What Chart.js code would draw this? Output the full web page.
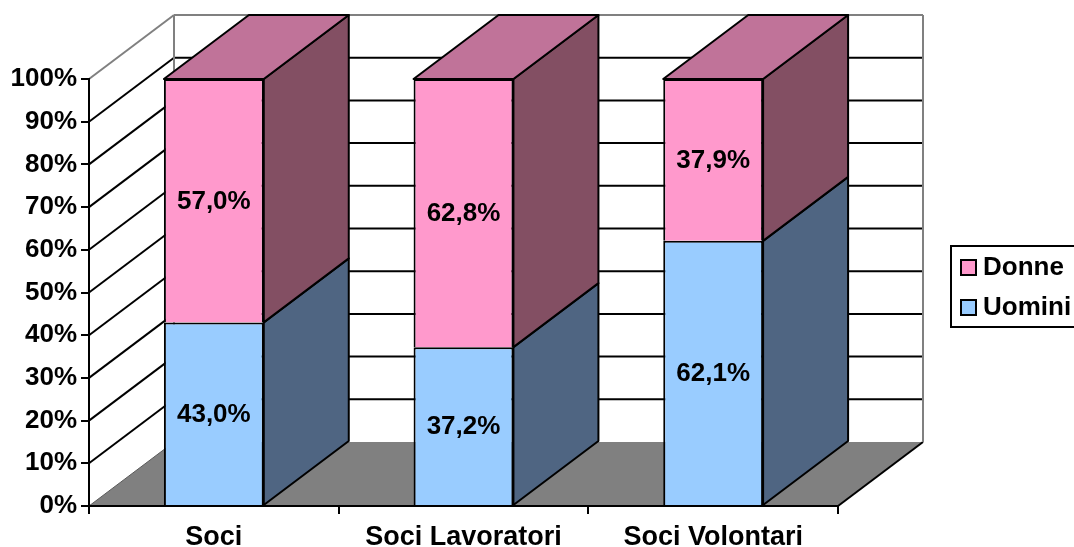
<!DOCTYPE html>
<html>
<head>
<meta charset="utf-8">
<script src="https://cdn.jsdelivr.net/npm/chart.js@4"></script>
<style>
  html, body { margin: 0; padding: 0; background: #fff; }
  canvas { display: block; }
</style>
</head>
<body>
<canvas id="chart" width="1074" height="547"></canvas>
<script>
const categories = ['Soci', 'Soci Lavoratori', 'Soci Volontari'];
const uomini = [43.0, 37.2, 62.1];
const donne = [57.0, 62.8, 37.9];
const seriesNames = ['Uomini', 'Donne'];
const yTicks = [0, 10, 20, 30, 40, 50, 60, 70, 80, 90, 100];

// colori stile Excel: fronte, lato, sopra
const colFront = ['#99CCFF', '#FF99CC'];
const colSide = ['#4F6582', '#834F63'];
const colTop = ['#7A9CC4', '#C07399'];

const DX = 85, DY = -64;   // profondita 3D
const FONT = '"Liberation Sans", Arial, sans-serif';

function fmt(v) {
  return v.toFixed(1).replace('.', ',') + '%';
}

function poly(ctx, pts, fill, stroke, lw) {
  ctx.beginPath();
  ctx.moveTo(pts[0][0], pts[0][1]);
  for (let i = 1; i < pts.length; i++) ctx.lineTo(pts[i][0], pts[i][1]);
  ctx.closePath();
  if (fill) { ctx.fillStyle = fill; ctx.fill(); }
  if (stroke) { ctx.strokeStyle = stroke; ctx.lineWidth = lw || 2; ctx.lineJoin = 'round'; ctx.stroke(); }
}

function line(ctx, x1, y1, x2, y2, color, lw) {
  ctx.beginPath();
  ctx.moveTo(x1, y1);
  ctx.lineTo(x2, y2);
  ctx.strokeStyle = color;
  ctx.lineWidth = lw;
  ctx.stroke();
}

const box3d = {
  id: 'box3d',
  beforeDraw(chart) {
    const ctx = chart.ctx;
    const a = chart.chartArea;
    const y = chart.scales.y;
    const y0 = y.getPixelForValue(0), y100 = y.getPixelForValue(100);
    ctx.save();
    // pavimento
    poly(ctx, [[a.left, y0], [a.right, y0], [a.right + DX, y0 + DY], [a.left + DX, y0 + DY]], '#808080');
    line(ctx, a.left, y0, a.left + DX, y0 + DY, '#5a5a5a', 1);
    line(ctx, a.right, y0, a.right + DX, y0 + DY, '#000', 2);
    // griglia parete di fondo e laterale
    yTicks.forEach(t => {
      if (t === 0 || t === 100) return;
      const p = y.getPixelForValue(t);
      line(ctx, a.left + DX, p + DY, a.right + DX, p + DY, '#000', 2);
      line(ctx, a.left, p, a.left + DX, p + DY, '#000', 2);
    });
    // bordi delle pareti
    line(ctx, a.left + DX, y100 + DY, a.right + DX, y100 + DY, '#808080', 2);
    line(ctx, a.right + DX, y100 + DY, a.right + DX, y0 + DY, '#808080', 2);
    line(ctx, a.left + DX, y100 + DY, a.left + DX, y0 + DY, '#808080', 2);
    line(ctx, a.left, y100, a.left + DX, y100 + DY, '#808080', 2);
    ctx.restore();
  },
  afterDatasetsDraw(chart) {
    const ctx = chart.ctx;
    const n = chart.data.datasets.length;
    ctx.save();
    for (let d = 0; d < n; d++) {
      const meta = chart.getDatasetMeta(d);
      meta.data.forEach(bar => {
        const p = bar.getProps(['x', 'y', 'base', 'width'], true);
        const l = p.x - p.width / 2, r = p.x + p.width / 2;
        const top = Math.min(p.y, p.base), bot = Math.max(p.y, p.base);
        poly(ctx, [[r, top], [r + DX, top + DY], [r + DX, bot + DY], [r, bot]], colSide[d], '#000', 2);
        if (d === n - 1) {
          poly(ctx, [[l, top], [l + DX, top + DY], [r + DX, top + DY], [r, top]], colTop[d], '#000', 2);
        }
      });
    }
    // etichette dati
    ctx.fillStyle = '#000';
    ctx.font = 'bold 26px ' + FONT;
    ctx.textAlign = 'center';
    ctx.textBaseline = 'middle';
    for (let d = 0; d < n; d++) {
      const meta = chart.getDatasetMeta(d);
      meta.data.forEach((bar, i) => {
        const p = bar.getProps(['x', 'y', 'base'], true);
        ctx.fillText(fmt(chart.data.datasets[d].data[i]), p.x, (p.y + p.base) / 2 + 1);
      });
    }
    ctx.restore();
  },
  afterDraw(chart) {
    // legenda con riquadro (ordine inverso come in Excel)
    const ctx = chart.ctx;
    ctx.save();
    ctx.strokeStyle = '#000';
    ctx.lineWidth = 2;
    ctx.strokeRect(951, 246, 140, 81);
    ctx.font = 'bold 26px ' + FONT;
    ctx.textAlign = 'left';
    ctx.textBaseline = 'middle';
    const rows = [1, 0];
    rows.forEach((d, k) => {
      const cy = 267 + k * 40;
      ctx.fillStyle = colFront[d];
      ctx.fillRect(961, cy - 7, 15, 15);
      ctx.strokeRect(961, cy - 7, 15, 15);
      ctx.fillStyle = '#000';
      ctx.fillText(chart.data.datasets[d].label, 983, cy + 1);
    });
    ctx.restore();
  }
};

new Chart(document.getElementById('chart').getContext('2d'), {
  type: 'bar',
  data: {
    labels: categories,
    datasets: [
      { label: seriesNames[0], data: uomini, backgroundColor: colFront[0], borderColor: '#000', borderWidth: 2 },
      { label: seriesNames[1], data: donne, backgroundColor: colFront[1], borderColor: '#000', borderWidth: 2 }
    ]
  },
  options: {
    responsive: false,
    animation: false,
    devicePixelRatio: 1,
    layout: { padding: { left: 0, top: 79, right: 236, bottom: 0 } },
    datasets: { bar: { categoryPercentage: 1, barPercentage: 0.4 } },
    plugins: { legend: { display: false }, tooltip: { enabled: false } },
    scales: {
      x: {
        stacked: true,
        grid: { offset: true, drawOnChartArea: false, drawTicks: true, tickLength: 8, color: '#000', lineWidth: 2 },
        border: { color: '#000', width: 2 },
        ticks: { font: { family: FONT, size: 27, weight: 'bold' }, color: '#000', padding: 7, maxRotation: 0 },
        afterFit(s) { s.height = 41; }
      },
      y: {
        stacked: true,
        min: 0,
        max: 100,
        afterBuildTicks(s) { s.ticks = yTicks.map(v => ({ value: v })); },
        ticks: { font: { family: FONT, size: 26, weight: 'bold' }, color: '#000', padding: 4, callback: v => v + '%' },
        grid: { drawOnChartArea: false, drawTicks: true, tickLength: 8, color: '#000', lineWidth: 2 },
        border: { color: '#000', width: 2 },
        afterFit(s) { s.width = 89; }
      }
    }
  },
  plugins: [box3d]
});
</script>
</body>
</html>
